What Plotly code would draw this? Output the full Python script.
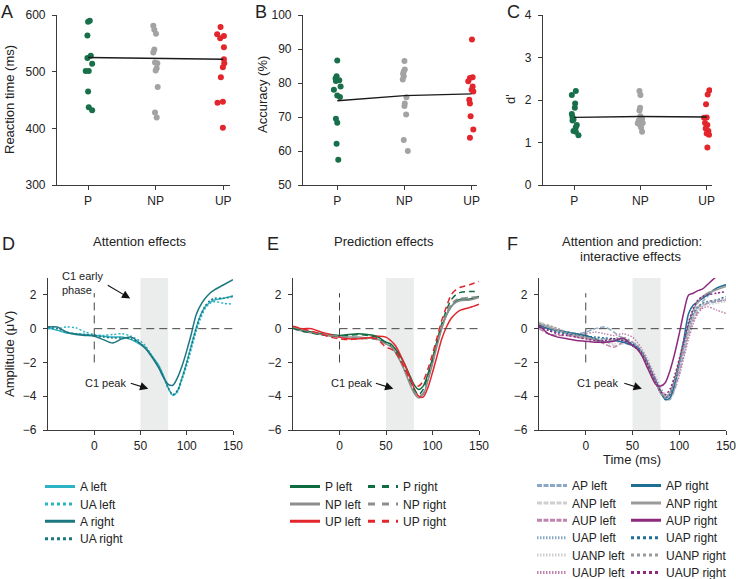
import plotly.graph_objects as go

FONT = "Liberation Sans, Arial, Helvetica, sans-serif"
W, H = 736, 579

# ---------------- Top panels (behaviour) ----------------
CATS = ["P", "NP", "UP"]

RT_P = [590, 588, 564, 528, 524, 514, 501, 501, 465, 437, 432]
RT_P_dx = [0.025, 0.0, -0.01, 0.04, -0.01, 0.06, -0.035, 0.01, 0.0, 0.01, 0.06]
RT_NP = [581, 574, 567, 539, 534, 516, 515, 506, 502, 473, 428, 419]
RT_NP_dx = [-0.035, -0.02, 0.005, -0.02, -0.035, -0.01, 0.025, 0.015, 0.0, 0.03, -0.01, 0.015]
RT_UP = [579, 566, 563, 559, 543, 522, 515, 508, 490, 447, 445, 401]
RT_UP_dx = [-0.04, -0.09, 0.01, -0.045, 0.01, 0.01, 0.015, -0.005, -0.035, -0.005, -0.085, -0.005]
RT_MEANS = [525, 523, 522]

ACC_P = [86.6, 82.0, 81.3, 80.8, 80.6, 79.0, 78.0, 76.3, 75.9, 69.5, 68.3, 62.1, 57.4]
ACC_P_dx = [0.0, -0.01, -0.025, 0.03, -0.02, 0.05, -0.05, 0.0, 0.04, -0.02, 0.0, -0.01, 0.015]
ACC_NP = [86.5, 84.0, 83.4, 82.7, 82.0, 81.0, 75.8, 74.0, 73.2, 70.7, 63.2, 60.0]
ACC_NP_dx = [0.0, 0.005, -0.01, -0.02, -0.01, -0.025, 0.03, 0.005, 0.0, 0.025, -0.01, 0.05]
ACC_UP = [92.8, 81.7, 81.5, 80.5, 79.0, 78.0, 77.5, 75.1, 74.0, 70.2, 66.3, 63.9]
ACC_UP_dx = [0.005, 0.015, -0.025, -0.05, 0.015, 0.0, 0.025, -0.035, -0.025, -0.015, 0.025, -0.025]
ACC_MEANS = [74.8, 76.3, 76.8]

DP_P = [2.21, 2.12, 1.92, 1.82, 1.67, 1.60, 1.54, 1.52, 1.41, 1.36, 1.27, 1.25, 1.17]
DP_P_dx = [0.025, -0.035, 0.015, 0.01, -0.035, -0.025, -0.01, -0.025, 0.04, 0.025, -0.01, 0.025, 0.065]
DP_NP = [2.21, 2.12, 1.82, 1.75, 1.62, 1.56, 1.52, 1.48, 1.45, 1.46, 1.41, 1.35, 1.25]
DP_NP_dx = [-0.015, 0.0, -0.005, -0.015, 0.0, 0.025, -0.025, 0.01, -0.04, 0.035, -0.005, 0.01, 0.025]
DP_UP = [2.23, 2.13, 1.90, 1.59, 1.58, 1.46, 1.41, 1.33, 1.27, 1.21, 1.18, 0.88]
DP_UP_dx = [0.04, 0.015, -0.01, 0.0, -0.04, -0.025, 0.01, -0.015, 0.025, 0.0, 0.035, 0.01]
DP_MEANS = [1.59, 1.61, 1.60]

# ---------------- Bottom panels (ERPs) ----------------
T = [-50, -40, -30, -20, -10, 0, 10, 20, 30, 40, 50, 55, 60, 65, 70, 75, 80, 85, 90, 95,
     100, 105, 110, 115, 120, 125, 130, 140, 150]

# D: attention
A_left = [0.05, -0.1, -0.25, -0.3, -0.35, -0.4, -0.45, -0.5, -0.5, -0.65, -0.95, -1.15, -1.45, -1.8, -2.2,
          -2.8, -3.5, -3.95, -3.7, -2.9, -2.0, -1.0, 0.0, 0.8, 1.3, 1.55, 1.7, 1.8, 1.95]
UA_left = [0.0, 0.0, 0.1, 0.05, -0.2, -0.35, -0.4, -0.35, -0.3, -0.45, -0.75, -1.0, -1.4, -1.85, -2.3,
           -2.9, -3.55, -3.95, -3.75, -3.0, -2.2, -1.2, -0.2, 0.6, 1.2, 1.5, 1.6, 1.5, 1.45]
A_right = [0.1, 0.1, -0.2, -0.35, -0.4, -0.45, -0.65, -0.85, -0.6, -0.5, -0.9, -1.15, -1.5, -1.9, -2.35,
           -2.9, -3.3, -3.35, -2.9, -2.2, -1.3, -0.3, 0.8, 1.4, 1.8, 2.1, 2.3, 2.6, 2.9]
UA_right = [0.1, 0.0, -0.2, -0.3, -0.35, -0.4, -0.5, -0.55, -0.55, -0.6, -0.9, -1.1, -1.45, -1.85, -2.3,
            -2.85, -3.5, -3.9, -3.65, -2.9, -2.0, -1.0, 0.0, 0.8, 1.35, 1.65, 1.8, 1.8, 1.9]

# E: prediction
P_left = [0.1, -0.1, -0.2, -0.3, -0.35, -0.4, -0.35, -0.3, -0.35, -0.45, -0.8, -0.9, -1.2, -1.6, -2.1,
          -2.7, -3.3, -3.6, -3.4, -2.7, -1.8, -0.8, 0.1, 0.8, 1.3, 1.6, 1.75, 1.75, 1.9]
P_right = [0.05, -0.15, -0.25, -0.35, -0.4, -0.45, -0.4, -0.35, -0.4, -0.5, -0.85, -1.0, -1.3, -1.8, -2.4,
           -3.0, -3.6, -3.9, -3.6, -2.8, -1.8, -0.7, 0.3, 1.1, 1.7, 2.0, 2.15, 2.2, 2.2]
NP_left = [0.0, -0.15, -0.25, -0.35, -0.45, -0.5, -0.5, -0.5, -0.55, -0.6, -0.9, -1.05, -1.4, -1.9, -2.5,
           -3.2, -3.8, -4.1, -3.9, -3.1, -2.1, -1.0, 0.0, 0.8, 1.3, 1.55, 1.65, 1.7, 1.85]
NP_right = [0.1, -0.05, -0.2, -0.3, -0.4, -0.45, -0.5, -0.55, -0.6, -0.65, -0.9, -1.0, -1.35, -1.85, -2.45,
            -3.1, -3.7, -4.0, -3.8, -3.0, -2.0, -0.9, 0.1, 0.9, 1.45, 1.7, 1.8, 1.85, 1.9]
UP_left = [0.1, 0.0, 0.0, -0.2, -0.35, -0.5, -0.6, -0.6, -0.55, -0.45, -0.5, -0.7, -1.0, -1.5, -2.1,
           -2.8, -3.5, -4.0, -4.05, -3.5, -2.6, -1.6, -0.6, 0.1, 0.6, 0.9, 1.1, 1.25, 1.45]
UP_right = [0.15, 0.0, -0.15, -0.3, -0.5, -0.6, -0.65, -0.6, -0.55, -0.6, -1.1, -1.2, -1.4, -1.8, -2.3,
            -2.9, -3.3, -3.4, -3.1, -2.4, -1.5, -0.5, 0.5, 1.3, 2.0, 2.3, 2.45, 2.6, 2.8]

# F: attention x prediction
AP_left = [0.2, 0.1, -0.1, -0.2, -0.3, -0.2, 0.0, 0.1, -0.2, -0.6, -0.8, -1.0, -1.4, -1.9, -2.5,
           -3.1, -3.7, -4.1, -4.2, -3.6, -2.6, -1.5, -0.3, 0.6, 1.2, 1.6, 1.9, 2.4, 2.6]
ANP_left = [0.4, 0.2, 0.0, -0.2, -0.3, -0.5, -0.6, -0.7, -1.0, -0.9, -1.0, -1.2, -1.5, -2.0, -2.6,
            -3.2, -3.8, -4.2, -4.2, -3.5, -2.4, -1.2, 0.0, 0.9, 1.5, 1.9, 2.1, 2.4, 2.5]
AUP_left = [0.0, -0.3, -0.4, -0.4, -0.5, -0.6, -0.7, -0.9, -1.1, -0.8, -0.9, -1.1, -1.5, -2.0, -2.6,
            -3.2, -3.8, -4.1, -4.0, -3.4, -2.4, -1.3, -0.3, 0.5, 1.0, 1.3, 1.5, 1.6, 1.7]
UAP_left = [0.1, 0.0, -0.2, -0.3, -0.4, -0.5, -0.6, -0.6, -0.7, -0.6, -0.9, -1.1, -1.4, -1.9, -2.5,
            -3.1, -3.7, -4.0, -3.9, -3.2, -2.2, -1.1, -0.1, 0.7, 1.2, 1.4, 1.5, 1.6, 1.7]
UANP_left = [0.2, 0.1, -0.1, -0.3, -0.4, -0.5, -0.6, -0.8, -0.9, -0.7, -0.9, -1.1, -1.5, -2.0, -2.6,
             -3.2, -3.7, -4.0, -3.9, -3.3, -2.3, -1.2, -0.2, 0.6, 1.1, 1.3, 1.4, 1.5, 1.6]
UAUP_left = [0.1, 0.0, -0.1, -0.2, -0.3, -0.3, -0.2, -0.3, -0.4, -0.3, -0.5, -0.8, -1.2, -1.7, -2.3,
             -2.9, -3.5, -3.9, -4.0, -3.6, -2.8, -1.7, -0.6, 0.3, 0.9, 1.2, 1.3, 1.1, 0.9]
AP_right = [0.2, 0.0, -0.1, -0.2, -0.3, -0.4, -0.6, -0.8, -0.7, -0.8, -1.0, -1.1, -1.4, -1.9, -2.5,
            -3.1, -3.7, -4.2, -4.1, -3.3, -2.0, -0.6, 0.9, 1.4, 1.6, 1.8, 2.0, 2.4, 2.6]
ANP_right = [0.3, 0.1, -0.1, -0.3, -0.4, -0.5, -0.7, -0.8, -0.7, -0.6, -1.0, -1.2, -1.5, -2.0, -2.6,
             -3.2, -3.8, -4.1, -3.8, -3.0, -1.9, -0.8, 0.3, 1.1, 1.6, 1.9, 2.1, 2.3, 2.5]
AUP_right = [0.2, -0.3, -0.5, -0.6, -0.7, -0.75, -0.8, -0.8, -0.75, -0.55, -1.0, -1.2, -1.6, -2.2, -2.8,
             -3.3, -3.4, -3.2, -2.5, -1.5, -0.3, 1.0, 2.0, 2.1, 2.25, 2.35, 2.6, 3.1, 3.5]
UAP_right = [0.1, -0.1, -0.2, -0.3, -0.35, -0.45, -0.5, -0.55, -0.6, -0.7, -0.9, -1.1, -1.5, -2.0, -2.6,
             -3.2, -3.8, -4.1, -3.9, -3.1, -2.0, -0.9, 0.2, 0.9, 1.3, 1.5, 1.6, 1.7, 1.9]
UANP_right = [0.3, 0.2, 0.0, -0.2, -0.4, -0.5, -0.6, -0.7, -0.6, -0.5, -0.8, -1.0, -1.4, -1.9, -2.5,
              -3.2, -3.8, -4.0, -3.8, -3.1, -2.1, -1.0, 0.0, 0.8, 1.3, 1.5, 1.6, 1.7, 1.8]
UAUP_right = [0.1, -0.1, -0.3, -0.4, -0.5, -0.6, -0.7, -0.7, -0.6, -0.7, -1.0, -1.2, -1.5, -2.0, -2.6,
              -3.2, -3.7, -3.9, -3.6, -2.8, -1.8, -0.7, 0.4, 1.2, 1.7, 1.9, 2.0, 2.1, 2.2]

X_TICKS = [0, 50, 100, 150]
Y_TICKS = [-6, -4, -2, 0, 2]

# ---------------- styles ----------------
GREEN, GREY, RED = "#17704a", "#a3a3a3", "#e3262b"
TEAL_L, TEAL_D = "#2bb3c3", "#1d7781"
E_GREEN, E_GREY, E_RED = "#0f6b40", "#8e8e8e", "#e3262b"
F_BLUE_L, F_GREY_L, F_PINK_L = "#8aa7c4", "#cfcfcf", "#c184ae"
F_BLUE_D, F_GREY_D, F_PURP_D = "#1f6e96", "#9a9a9a", "#8d2a7e"
AX = "#3a3a3a"
TXT = "#222222"


def px(x):
    return x / W


def py(y):
    return 1 - y / H


fig = go.Figure()

# ---- top scatter panels ----
top_sets = [
    ("x", "y", [(RT_P, RT_P_dx), (RT_NP, RT_NP_dx), (RT_UP, RT_UP_dx)], RT_MEANS),
    ("x2", "y2", [(ACC_P, ACC_P_dx), (ACC_NP, ACC_NP_dx), (ACC_UP, ACC_UP_dx)], ACC_MEANS),
    ("x3", "y3", [(DP_P, DP_P_dx), (DP_NP, DP_NP_dx), (DP_UP, DP_UP_dx)], DP_MEANS),
]
for xa, ya, groups, means in top_sets:
    for i, ((vals, dx), col) in enumerate(zip(groups, [GREEN, GREY, RED])):
        fig.add_trace(go.Scatter(
            x=[i + d for d in dx], y=vals, mode="markers",
            marker=dict(color=col, size=6, line=dict(width=0)),
            xaxis=xa, yaxis=ya, showlegend=False, hoverinfo="skip"))
    fig.add_trace(go.Scatter(
        x=list(range(len(CATS))), y=means, mode="lines",
        line=dict(color="#1a1a1a", width=1.4),
        xaxis=xa, yaxis=ya, showlegend=False, hoverinfo="skip"))

# ---- ERP curves: (name, values, colour, style, legend column, legend row) ----
D_curves = [
    ("A left", A_left, TEAL_L, "solid", 0, 0),
    ("UA left", UA_left, TEAL_L, "dot", 0, 1),
    ("A right", A_right, TEAL_D, "solid", 0, 2),
    ("UA right", UA_right, TEAL_D, "dot", 0, 3),
]
E_curves = [
    ("P left", P_left, E_GREEN, "solid", 0, 0),
    ("NP left", NP_left, E_GREY, "solid", 0, 1),
    ("UP left", UP_left, E_RED, "solid", 0, 2),
    ("P right", P_right, E_GREEN, "dash", 1, 0),
    ("NP right", NP_right, E_GREY, "dash", 1, 1),
    ("UP right", UP_right, E_RED, "dash", 1, 2),
]
F_curves = [
    ("AP left", AP_left, F_BLUE_L, "ldash", 0, 0),
    ("ANP left", ANP_left, F_GREY_L, "ldash", 0, 1),
    ("AUP left", AUP_left, F_PINK_L, "ldash", 0, 2),
    ("UAP left", UAP_left, F_BLUE_L, "fdot", 0, 3),
    ("UANP left", UANP_left, F_GREY_L, "fdot", 0, 4),
    ("UAUP left", UAUP_left, F_PINK_L, "fdot", 0, 5),
    ("AP right", AP_right, F_BLUE_D, "solid", 1, 0),
    ("ANP right", ANP_right, F_GREY_D, "solid", 1, 1),
    ("AUP right", AUP_right, F_PURP_D, "solid", 1, 2),
    ("UAP right", UAP_right, F_BLUE_D, "dot", 1, 3),
    ("UANP right", UANP_right, F_GREY_D, "dot", 1, 4),
    ("UAUP right", UAUP_right, F_PURP_D, "dot", 1, 5),
]

PLOT_DASH = {"solid": "solid", "dot": "2px,2px", "dash": "6px,4px", "ldash": "5px,2px", "fdot": "1.5px,1.5px"}
LEG_DASH = {"solid": "solid", "dot": "3px,3px", "dash": "7px,7px", "ldash": "5px,1.5px", "fdot": "1.5px,1.5px"}

# legend placement (pixels): column left edges and first-row / row step
LEG_COLS = {"D": [40], "E": [285, 363], "F": [532, 626]}
LEG_ROW0 = {"D": 486, "E": 486, "F": 485}
LEG_STEP = 17.4
LEG_OFFSET = 14  # legend top above the centre of its single row

leg_common = dict(bgcolor="rgba(0,0,0,0)", borderwidth=0, xanchor="left", yanchor="top",
                  font=dict(size=12, color=TXT, family=FONT), tracegroupgap=0,
                  orientation="v", itemclick=False, itemdoubleclick=False)
legends = {}
leg_n = 0

for panel, xa, ya, curves in [("D", "x4", "y4", D_curves), ("E", "x5", "y5", E_curves),
                              ("F", "x6", "y6", F_curves)]:
    for name, vals, col, dash, c, r in curves:
        fig.add_trace(go.Scatter(
            x=T, y=vals, mode="lines", name=name,
            line=dict(color=col, width=1.5, dash=PLOT_DASH[dash], shape="spline", smoothing=0.8),
            xaxis=xa, yaxis=ya, showlegend=False, hoverinfo="skip"))
    for name, vals, col, dash, c, r in curves:
        leg_n += 1
        key = "legend" if leg_n == 1 else "legend%d" % leg_n
        row_y = LEG_ROW0[panel] + r * LEG_STEP
        legends[key] = dict(leg_common, x=px(LEG_COLS[panel][c]), y=py(row_y - LEG_OFFSET))
        fig.add_trace(go.Scatter(
            x=[None], y=[None], mode="lines", name=name,
            line=dict(color=col, width=3, dash=LEG_DASH[dash]),
            xaxis=xa, yaxis=ya, showlegend=True, legend=key))

# ---------------- axes ----------------
common = dict(showline=True, linecolor=AX, linewidth=1.2, ticks="outside", ticklen=4,
              tickwidth=1.2, tickcolor=AX, showgrid=False, zeroline=False, automargin=False,
              tickfont=dict(size=12, color=TXT, family=FONT), fixedrange=True,
              ticklabeloverflow="allow")

top_y = [py(185), py(15)]
bot_y = [py(430), py(278)]

layout_axes = {}
tops = [
    ("xaxis", "yaxis", "x", "y", (57, 230), (-0.46, 2.1), (300, 600), 100),
    ("xaxis2", "yaxis2", "x2", "y2", (303, 477), (-0.51, 2.08), (50, 100), 10),
    ("xaxis3", "yaxis3", "x3", "y3", (543, 712), (-0.47, 2.08), (0, 4), 1),
]
for xk, yk, xa, ya, (l, r), xr, yr, dt in tops:
    layout_axes[xk] = dict(common, domain=[px(l), px(r)], range=list(xr), anchor=ya,
                           tickvals=list(range(len(CATS))), ticktext=CATS)
    layout_axes[yk] = dict(common, domain=top_y, range=list(yr), anchor=xa, dtick=dt,
                           ticklabelstandoff=4)

bots = [
    ("xaxis4", "yaxis4", "x4", "y4", (48, 233)),
    ("xaxis5", "yaxis5", "x5", "y5", (293, 479)),
    ("xaxis6", "yaxis6", "x6", "y6", (539, 726)),
]
for xk, yk, xa, ya, (l, r) in bots:
    layout_axes[xk] = dict(common, domain=[px(l), px(r)], range=[-50, 150], anchor=ya,
                           tickvals=X_TICKS)
    layout_axes[yk] = dict(common, domain=bot_y, range=[-6, 3], anchor=xa,
                           tickvals=Y_TICKS, ticklabelstandoff=4)

# ---------------- shapes ----------------
shapes = []
for xa, ya in [("x4", "y4"), ("x5", "y5"), ("x6", "y6")]:
    shapes.append(dict(type="rect", xref=xa, yref=ya, x0=50, x1=80, y0=-6, y1=3,
                       fillcolor="#ebedec", line=dict(width=0), layer="below"))
    shapes.append(dict(type="line", xref=xa, yref=ya, x0=0, x1=0, y0=-2, y1=2.1,
                       line=dict(color="#444", width=1, dash="8px,5px"), layer="above"))
    shapes.append(dict(type="line", xref=xa, yref=ya, x0=0, x1=150, y0=0, y1=0,
                       line=dict(color="#444", width=1, dash="8px,5px"), layer="above"))

# ---------------- annotations ----------------
ann = []


def ptext(text, x, y, size=13, angle=0, xanchor="center", yanchor="middle"):
    ann.append(dict(text=text, x=px(x), y=py(y), xref="paper", yref="paper", showarrow=False,
                    textangle=angle, xanchor=xanchor, yanchor=yanchor,
                    font=dict(size=size, color=TXT, family=FONT)))


for letter, x, y in [("A", 7, 12), ("B", 261, 12), ("C", 513, 12),
                     ("D", 8, 244), ("E", 273, 244), ("F", 512, 244)]:
    ptext(letter, x, y, size=18)

ptext("Reaction time (ms)", 9, 100, angle=-90)
ptext("Accuracy (%)", 262, 95, angle=-90)
ptext("d'", 511, 99, angle=-90)
ptext("Amplitude (μV)", 9, 354, angle=-90)
ptext("Time (ms)", 632, 459)
ptext("Attention effects", 139, 241)
ptext("Prediction effects", 384, 241)
ptext("Attention and prediction:", 632, 241)
ptext("interactive effects", 630, 256)

# in-panel labels and arrows
ann.append(dict(text="C1 early<br>phase", x=-37.5, y=2.7, xref="x4", yref="y4", showarrow=False,
                xanchor="left", yanchor="middle", align="left",
                font=dict(size=11, color=TXT, family=FONT)))
ann.append(dict(text="", x=38.9, y=1.79, xref="x4", yref="y4", showarrow=True, ax=-24, ay=-14,
                arrowhead=2, arrowsize=1.5, arrowwidth=1.1, arrowcolor="#111", standoff=0))
for xa, ya, tx, hx in [("x4", "y4", 11.9, 58.4), ("x5", "y5", 12.5, 57.9), ("x6", "y6", 12.9, 60.0)]:
    ann.append(dict(text="C1 peak", x=tx, y=-3.2, xref=xa, yref=ya, showarrow=False,
                    font=dict(size=11, color=TXT, family=FONT)))
    ann.append(dict(text="", x=hx, y=-3.56, xref=xa, yref=ya, showarrow=True, ax=-19, ay=-6,
                    arrowhead=2, arrowsize=1.5, arrowwidth=1.1, arrowcolor="#111", standoff=0))

fig.update_layout(
    width=W, height=H, margin=dict(l=0, r=0, t=0, b=0, autoexpand=False),
    paper_bgcolor="white", plot_bgcolor="white",
    font=dict(family=FONT, color=TXT, size=12),
    showlegend=True, shapes=shapes, annotations=ann,
    hovermode=False,
    **layout_axes, **legends,
)

fig.write_html("out.html", config={"displayModeBar": False},
               post_script="document.body.style.margin='0';")
